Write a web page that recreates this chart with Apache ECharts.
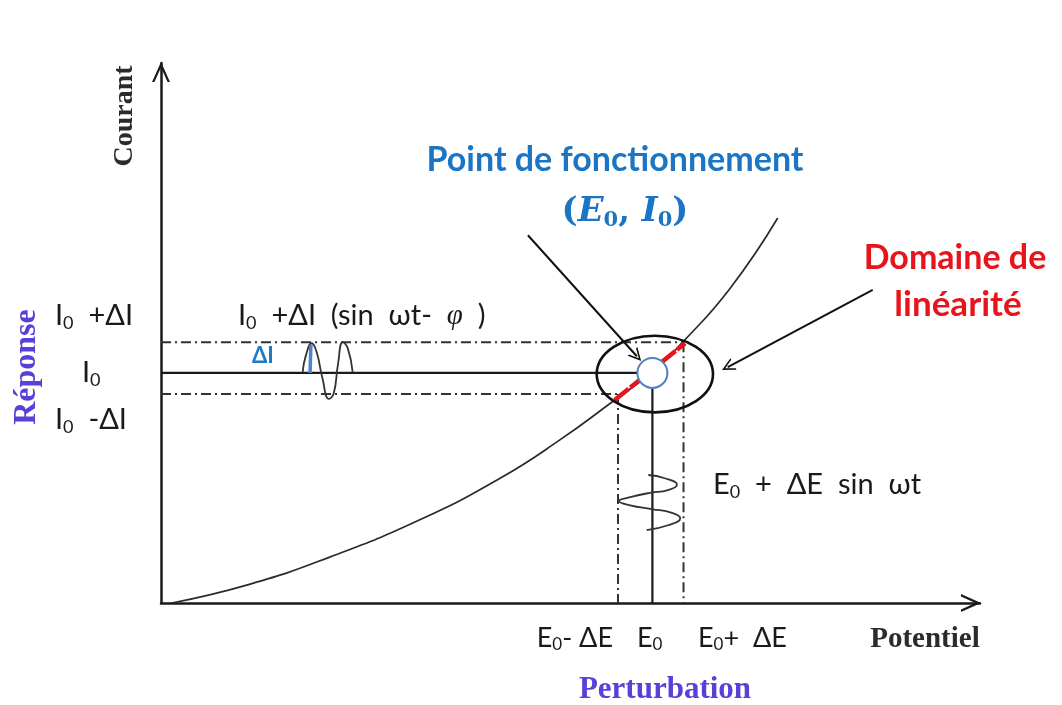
<!DOCTYPE html>
<html>
<head>
<meta charset="utf-8">
<title>Point de fonctionnement</title>
<script src="https://cdn.jsdelivr.net/npm/echarts@6/dist/echarts.min.js"></script>
<style>
  html, body { margin: 0; padding: 0; background: #fff; }
  #chart { width: 1062px; height: 705px; }
</style>
</head>
<body>
<div id="chart"></div>
<script>
// courbe I = f(E) (unités arbitraires 0..10)
const curveE = [0.13, 1.09, 2.06, 3.16, 4.14, 4.87, 5.54, 6.0, 6.37, 6.95, 7.53];
const curveI = [0, 0.35, 0.85, 1.54, 2.31, 3.02, 3.76, 4.28, 4.83, 5.83, 7.13];

// point de fonctionnement et bornes
const E0 = 6.0;
const I0 = 4.26;
const eBounds = [5.58, 6.38];
const iBounds = [3.87, 4.83];

// domaine de linéarité (tangente rouge + ellipse)
const tangentE = [5.54, 6.4];
const tangentI = [3.76, 4.81];
const domainCenter = [6.03, 4.24];
const domainRadius = [0.71, 0.71];

// réponse sinusoïdale en courant
const respE = [1.73, 1.77, 1.84, 1.9, 1.97, 2.05, 2.11, 2.16, 2.22, 2.28, 2.34];
const respI = [4.28, 4.59, 4.81, 4.65, 4.17, 3.78, 3.89, 4.41, 4.83, 4.72, 4.28];
const deltaIE = [1.82, 1.83];
const deltaII = [4.26, 4.78];

// perturbation sinusoïdale en potentiel
const pertE = [5.95, 6.15, 6.3, 6.19, 5.97, 5.73, 5.59, 5.73, 5.99, 6.24, 6.34, 6.19, 5.93];
const pertI = [2.37, 2.31, 2.19, 2.09, 2.04, 1.96, 1.89, 1.81, 1.74, 1.67, 1.57, 1.44, 1.35];

// flèches d'annotation
const arrowFrom = [[4.48, 6.81], [8.69, 5.8]];
const arrowTo = [[5.81, 4.57], [6.92, 4.37]];

const chart = echarts.init(document.getElementById("chart"));

const zip = (xs, ys) => xs.map((x, i) => [x, ys[i]]);
const sans = "Lato, 'Open Sans', sans-serif";
const serif = "'Liberation Serif', 'DejaVu Serif', serif";
const mathSerif = "'DejaVu Serif', 'Liberation Serif', serif";
const chevron = "path://M0,20 L9,0 L18,20 L15.6,20 L9,5.6 L2.4,20 Z";
const dashDot = [10, 4, 2, 4];

function seg(data, color, width, type) {
  return {
    type: "line",
    data: data,
    symbol: "none",
    silent: true,
    lineStyle: { color: color, width: width, type: type || "solid" },
    z: 2,
  };
}

function label(text, x, y, o) {
  o = o || {};
  const size = o.size || 29;
  const family = o.family || sans;
  const weight = o.weight || "normal";
  const fill = o.fill || "#1a1a1a";
  return {
    type: "text",
    x: x,
    y: y,
    rotation: o.rotation || 0,
    style: {
      text: text,
      fontSize: size,
      fontFamily: family,
      fontWeight: weight,
      fontStyle: o.style || "normal",
      fill: fill,
      align: o.align || "left",
      verticalAlign: "middle",
      lineHeight: size + 6,
      rich: {
        s: {
          fontSize: Math.round(size * 0.62),
          fontFamily: family,
          fontWeight: weight,
          fontStyle: "normal",
          fill: fill,
          lineHeight: Math.round(size * 0.7),
          padding: [Math.round(size * 0.5), 0, 0, 0],
        },
        v: {
          fontSize: size,
          fontFamily: o.vFamily || serif,
          fontWeight: weight,
          fontStyle: "italic",
          fill: fill,
        },
      },
    },
  };
}

const option = {
  backgroundColor: "#fff",
  animation: false,
  grid: { left: 161, top: 63, width: 819, height: 540 },
  xAxis: {
    type: "value",
    min: 0,
    max: 10,
    axisLine: {
      lineStyle: { color: "#1a1a1a", width: 2.5 },
      symbol: ["none", chevron],
      symbolSize: [18, 20],
      symbolOffset: [0, -9],
    },
    axisTick: { show: false },
    axisLabel: { show: false },
    splitLine: { show: false },
  },
  yAxis: {
    type: "value",
    min: 0,
    max: 10,
    axisLine: {
      show: true,
      lineStyle: { color: "#1a1a1a", width: 2.5 },
      symbol: ["none", chevron],
      symbolSize: [18, 20],
      symbolOffset: [0, -9],
    },
    axisTick: { show: false },
    axisLabel: { show: false },
    splitLine: { show: false },
  },
  series: [
    Object.assign(seg(zip(curveE, curveI), "#2a2a2a", 1.7), { smooth: true }),
    seg([[0, I0], [E0, I0]], "#1a1a1a", 2.2),
    seg([[E0, 0], [E0, I0]], "#1a1a1a", 2.2),
    seg([[0, iBounds[1]], [eBounds[1], iBounds[1]]], "#333", 2, dashDot),
    seg([[0, iBounds[0]], [eBounds[0], iBounds[0]]], "#333", 2, dashDot),
    seg([[eBounds[0], iBounds[0]], [eBounds[0], 0]], "#333", 2, dashDot),
    seg([[eBounds[1], iBounds[1]], [eBounds[1], 0]], "#333", 2, dashDot),
    Object.assign(seg(zip(tangentE, tangentI), "#e8141b", 4.5, [18, 2]), { z: 3 }),
    Object.assign(seg(zip(respE, respI), "#333", 1.8), { smooth: true }),
    Object.assign(seg(zip(deltaIE, deltaII), "#4a86c8", 3.5), { z: 3 }),
    Object.assign(seg(zip(pertE, pertI), "#333", 1.8), { smooth: true }),
    {
      type: "custom",
      silent: true,
      z: 4,
      data: [[domainCenter[0], domainCenter[1]]],
      renderItem: function (params, api) {
        const c = api.coord([api.value(0), api.value(1)]);
        const s = api.size(domainRadius);
        return {
          type: "ellipse",
          shape: { cx: c[0], cy: c[1], rx: s[0], ry: s[1] },
          style: { fill: "none", stroke: "#111", lineWidth: 2.6 },
        };
      },
    },
    {
      type: "lines",
      coordinateSystem: "cartesian2d",
      silent: true,
      z: 4,
      symbol: ["none", chevron],
      symbolSize: [12, 13],
      lineStyle: { color: "#111", width: 2, opacity: 1, curveness: 0 },
      data: arrowFrom.map((p, i) => ({ coords: [p, arrowTo[i]] })),
    },
    {
      type: "scatter",
      silent: true,
      z: 5,
      symbolSize: 30,
      itemStyle: { color: "#fff", borderColor: "#4f81bd", borderWidth: 2, opacity: 1 },
      data: [[E0, I0]],
    },
  ],
  graphic: [
    label("Courant", 125, 116, { family: serif, weight: "bold", size: 28, fill: "#2b2b2b", rotation: Math.PI / 2, align: "center" }),
    label("Réponse", 27, 367, { family: serif, weight: "bold", size: 32, fill: "#5b3fd8", rotation: Math.PI / 2, align: "center" }),
    label("Potentiel", 925, 640, { family: serif, weight: "bold", size: 29, fill: "#2b2b2b", align: "center" }),
    label("Perturbation", 665, 690, { family: serif, weight: "bold", size: 31, fill: "#5b3fd8", align: "center" }),
    label("I{s|0}  +ΔI", 55, 316),
    label("I{s|0}", 82, 373),
    label("I{s|0}  -ΔI", 55, 420),
    label("I{s|0}  +ΔI  (sin  ωt-  {v|φ}  )", 238, 316),
    label("ΔI", 252, 356, { weight: "bold", size: 22, fill: "#1f78c8" }),
    label("E{s|0}  +  ΔE  sin  ωt", 713, 485),
    label("E{s|0}- ΔE", 613, 638, { align: "right", size: 27 }),
    label("E{s|0}", 637, 638, { size: 27 }),
    label("E{s|0}+  ΔE", 698, 638, { size: 27 }),
    label("Point de fonctionnement", 615, 160, { weight: "bold", size: 34, fill: "#1b75c4", align: "center" }),
    label("({v|E}{s|0}, {v|I}{s|0})", 625, 212, { family: mathSerif, vFamily: mathSerif, weight: "bold", size: 34, fill: "#1b75c4", align: "center" }),
    label("Domaine de", 955, 258, { weight: "bold", size: 34, fill: "#e8141b", align: "center" }),
    label("linéarité", 958, 305, { weight: "bold", size: 35, fill: "#e8141b", align: "center" }),
  ],
};

chart.setOption(option);
window.onresize = function () {
  chart.resize();
};
</script>
</body>
</html>
